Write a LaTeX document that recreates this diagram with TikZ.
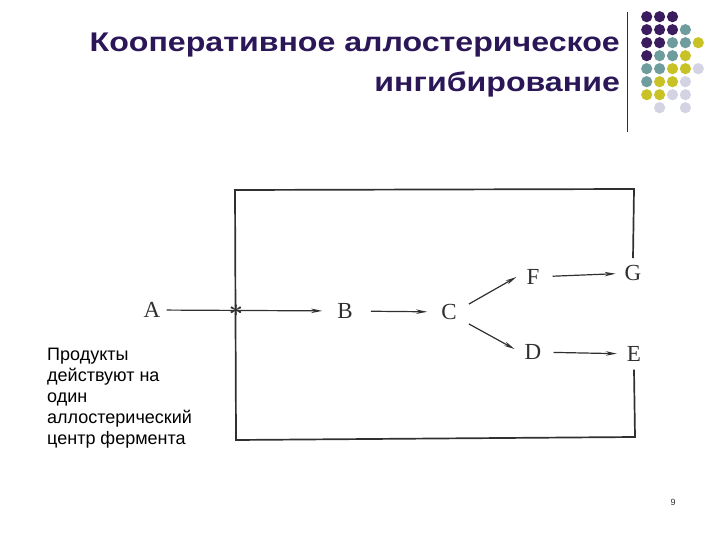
\documentclass[tikz,border=0pt]{standalone}
\usepackage{fontspec}
\usepackage{graphicx}
\setmainfont{Liberation Serif}
\newfontfamily\headfont{Liberation Sans}
\usetikzlibrary{arrows.meta}
\definecolor{ink}{HTML}{303030}
\definecolor{titleink}{HTML}{2B1657}
\definecolor{dotP}{HTML}{3B1C5E}
\definecolor{dotT}{HTML}{6F9C9C}
\definecolor{dotY}{HTML}{C8C226}
\definecolor{dotL}{HTML}{D3D3E3}

\begin{document}
\begin{tikzpicture}[x=1pt, y=-1pt,
  letter/.style={font=\fontsize{23}{25}\selectfont, inner sep=0pt, text=ink},
  head/.style={anchor=base east, font=\headfont\bfseries\fontsize{27}{30}\selectfont, text=titleink, inner sep=0pt},
  arr/.style={-{Stealth[length=11pt, width=4.5pt]}, draw=ink, line width=1.2pt},
  frame/.style={draw=ink, line width=1.7pt}]
\useasboundingbox (0,0) rectangle (720,540);
% title and corner decoration
\node[head] (title1) at (620,52) {\scalebox{1.19}[1]{Кооперативное аллостерическое}};
\node[head] (title2) at (620,92) {\scalebox{1.19}[1]{ингибирование}};
\draw[ink, line width=1pt] (627,12) -- (627,132);
\foreach \c/\r/\k in {0/0/dotP, 1/0/dotP, 2/0/dotP,
    0/1/dotP, 1/1/dotP, 2/1/dotP, 3/1/dotT,
    0/2/dotP, 1/2/dotP, 2/2/dotT, 3/2/dotT, 4/2/dotY,
    0/3/dotP, 1/3/dotT, 2/3/dotT, 3/3/dotY,
    0/4/dotT, 1/4/dotT, 2/4/dotY, 3/4/dotY, 4/4/dotL,
    0/5/dotT, 1/5/dotY, 2/5/dotY, 3/5/dotL,
    0/6/dotY, 1/6/dotY, 2/6/dotL, 3/6/dotL,
    1/7/dotL, 3/7/dotL}
  \fill[\k] (646.7+12.9*\c, 16.7+13*\r) circle (5.6);
% pathway letters
\node[letter] (A) at (152,310) {A};
\node[letter] (B) at (345,311) {B};
\node[letter] (C) at (449,312) {C};
\node[letter] (F) at (533,277) {F};
\node[letter] (G) at (633,273) {G};
\node[letter] (D) at (533,352) {D};
\node[letter] (E) at (634,354) {E};
\node[font=\fontsize{24}{24}\selectfont\boldmath, text=ink, inner sep=0pt] (hit) at (236,311) {$\ast$};
% corners of the feedback loop
\coordinate (tr) at (634,189);
\coordinate (tl) at (235,190);
\coordinate (bl) at (236,440);
\coordinate (br) at (635,437);
% arrows
\draw[arr, shorten <=6pt, shorten >=15pt] (A) -- (B);
\draw[arr, shorten <=18pt, shorten >=14pt] (B) -- (C);
\draw[arr] ([xshift=12pt]C.north east) -- ([xshift=-10pt]F.west);
\draw[arr] ([shift={(12,4)}]C.south east) -- ([shift={(-10,-3)}]D.west);
\draw[arr, shorten <=13pt, shorten >=9pt] (F) -- (G);
\draw[arr, shorten <=12pt, shorten >=10pt] (D) -- (E);
\draw[frame] ([yshift=7pt]G.north) -- (tr) -- (tl) -- (bl) -- (br) -- ([yshift=-8pt]E.south);
% side note and page number
\node[anchor=north west, align=left, inner sep=0pt, font=\headfont\fontsize{18}{21}\selectfont] (note) at (47,348)
  {Продукты\\действуют на\\один\\аллостерический\\центр фермента};
\node[font=\headfont\fontsize{9}{10}\selectfont, text=ink] (page) at (673,502) {9};
\end{tikzpicture}
\end{document}
